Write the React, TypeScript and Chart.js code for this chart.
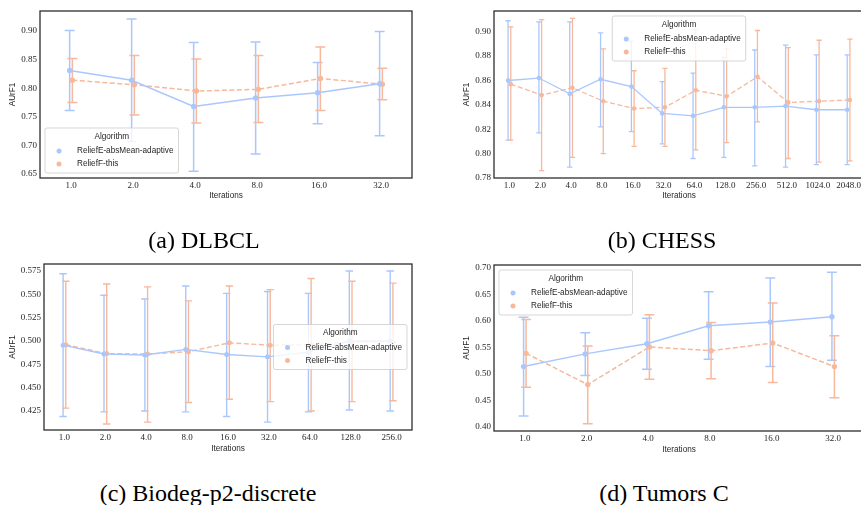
import React, { useEffect, useRef } from "react";
import { Chart, registerables } from "chart.js";

Chart.register(...registerables);

// ---------- shared labels ----------
const SERIES_NAMES = ["ReliefE-absMean-adaptive", "ReliefF-this"];
const SERIES_COLORS = ["rgb(170,199,253)", "rgb(247,184,156)"];
const LEGEND_TITLE = "Algorithm";
const X_TITLE = "Iterations";
const Y_TITLE = "AUrF1";

// ---------- (a) DLBCL ----------
const dlbclIterations = ["1.0", "2.0", "4.0", "8.0", "16.0", "32.0"];
const dlbclYTicks = [0.65, 0.7, 0.75, 0.8, 0.85, 0.9];
const dlbclAdaptiveMean = [0.831, 0.814, 0.768, 0.783, 0.792, 0.808];
const dlbclAdaptiveLow = [0.761, 0.707, 0.655, 0.685, 0.738, 0.717];
const dlbclAdaptiveHigh = [0.901, 0.921, 0.88, 0.881, 0.845, 0.899];
const dlbclThisMean = [0.814, 0.806, 0.795, 0.798, 0.817, 0.807];
const dlbclThisLow = [0.775, 0.753, 0.739, 0.74, 0.761, 0.78];
const dlbclThisHigh = [0.852, 0.857, 0.851, 0.857, 0.872, 0.835];

// ---------- (b) CHESS ----------
const chessIterations = ["1.0", "2.0", "4.0", "8.0", "16.0", "32.0", "64.0", "128.0", "256.0", "512.0", "1024.0", "2048.0"];
const chessYTicks = [0.78, 0.8, 0.82, 0.84, 0.86, 0.88, 0.9];
const chessAdaptiveMean = [0.86, 0.862, 0.849, 0.861, 0.855, 0.833, 0.831, 0.838, 0.838, 0.839, 0.836, 0.836];
const chessAdaptiveLow = [0.811, 0.817, 0.789, 0.822, 0.818, 0.808, 0.796, 0.797, 0.79, 0.789, 0.791, 0.791];
const chessAdaptiveHigh = [0.909, 0.908, 0.908, 0.899, 0.892, 0.859, 0.866, 0.879, 0.885, 0.889, 0.881, 0.881];
const chessThisMean = [0.857, 0.848, 0.854, 0.843, 0.837, 0.838, 0.852, 0.847, 0.863, 0.842, 0.843, 0.844];
const chessThisLow = [0.811, 0.786, 0.797, 0.8, 0.806, 0.806, 0.803, 0.809, 0.826, 0.796, 0.793, 0.794];
const chessThisHigh = [0.904, 0.91, 0.911, 0.886, 0.868, 0.87, 0.902, 0.886, 0.901, 0.887, 0.893, 0.894];

// ---------- (c) Biodeg-p2-discrete ----------
const biodegIterations = ["1.0", "2.0", "4.0", "8.0", "16.0", "32.0", "64.0", "128.0", "256.0"];
const biodegYTicks = [0.425, 0.45, 0.475, 0.5, 0.525, 0.55, 0.575];
const biodegAdaptiveMean = [0.4955, 0.486, 0.485, 0.491, 0.4855, 0.483, 0.488, 0.5, 0.5];
const biodegAdaptiveLow = [0.419, 0.424, 0.425, 0.424, 0.419, 0.413, 0.424, 0.426, 0.425];
const biodegAdaptiveHigh = [0.572, 0.549, 0.545, 0.559, 0.551, 0.553, 0.551, 0.575, 0.575];
const biodegThisMean = [0.496, 0.4865, 0.486, 0.4885, 0.498, 0.4955, 0.496, 0.499, 0.499];
const biodegThisLow = [0.428, 0.411, 0.413, 0.434, 0.4375, 0.435, 0.425, 0.435, 0.436];
const biodegThisHigh = [0.564, 0.561, 0.558, 0.543, 0.559, 0.555, 0.567, 0.564, 0.562];

// ---------- (d) Tumors C ----------
const tumorsIterations = ["1.0", "2.0", "4.0", "8.0", "16.0", "32.0"];
const tumorsYTicks = [0.4, 0.45, 0.5, 0.55, 0.6, 0.65, 0.7];
const tumorsAdaptiveMean = [0.514, 0.538, 0.557, 0.591, 0.598, 0.608];
const tumorsAdaptiveLow = [0.421, 0.497, 0.509, 0.528, 0.514, 0.526];
const tumorsAdaptiveHigh = [0.607, 0.578, 0.605, 0.655, 0.681, 0.692];
const tumorsThisMean = [0.539, 0.48, 0.551, 0.544, 0.5585, 0.514];
const tumorsThisLow = [0.475, 0.406, 0.49, 0.491, 0.484, 0.455];
const tumorsThisHigh = [0.603, 0.553, 0.612, 0.597, 0.634, 0.572];

// ---------- styles ----------
const TEXT_COLOR = "#262626";
const SERIF = "'Liberation Serif', 'Times New Roman', serif";
const SANS = "'Liberation Sans', Arial, sans-serif";
const LABEL_SIZE = 8.2;

const errorBarPlugin = {
  id: "errorBars",
  beforeDatasetsDraw(chart: any) {
    const o = chart.options.plugins.errorBars || {};
    const ctx = chart.ctx;
    const ca = chart.chartArea;
    const xs = chart.scales.x;
    const ys = chart.scales.y;
    const capHalf = Math.abs(xs.getPixelForValue(o.capFrac / 2) - xs.getPixelForValue(0));
    ctx.save();
    ctx.beginPath();
    ctx.rect(ca.left, ca.top, ca.right - ca.left, ca.bottom - ca.top);
    ctx.clip();
    chart.data.datasets.forEach((ds: any, di: number) => {
      const meta = chart.getDatasetMeta(di);
      ctx.strokeStyle = ds.borderColor;
      ctx.lineWidth = o.lineWidth;
      ctx.setLineDash([]);
      meta.data.forEach((pt: any, i: number) => {
        const x = pt.x;
        const yl = ys.getPixelForValue(ds.errLow[i]);
        const yh = ys.getPixelForValue(ds.errHigh[i]);
        ctx.beginPath();
        ctx.moveTo(x, yl);
        ctx.lineTo(x, yh);
        ctx.moveTo(x - capHalf, yl);
        ctx.lineTo(x + capHalf, yl);
        ctx.moveTo(x - capHalf, yh);
        ctx.lineTo(x + capHalf, yh);
        ctx.stroke();
      });
    });
    ctx.restore();
  },
};

const framePlugin = {
  id: "frame",
  afterDatasetsDraw(chart: any) {
    const ctx = chart.ctx;
    const ca = chart.chartArea;
    ctx.save();
    ctx.strokeStyle = TEXT_COLOR;
    ctx.lineWidth = 1.25;
    ctx.strokeRect(ca.left, ca.top, ca.right - ca.left, ca.bottom - ca.top);
    ctx.restore();
  },
};

const boxLegendPlugin = {
  id: "boxLegend",
  afterDraw(chart: any) {
    const o = chart.options.plugins.boxLegend;
    if (!o) return;
    const ctx = chart.ctx;
    const ca = chart.chartArea;
    ctx.save();
    ctx.font = `${LABEL_SIZE}px ${SANS}`;
    const tw = Math.max(...SERIES_NAMES.map((n) => ctx.measureText(n).width));
    const w = 32 + tw + 5;
    const h = 45;
    const pad = 5;
    let x = ca.left + pad;
    let y = ca.top + pad;
    if (o.loc === "lower left") {
      x = ca.left + pad;
      y = ca.bottom - pad - h;
    } else if (o.loc === "upper center") {
      x = (ca.left + ca.right) / 2 - w / 2;
      y = ca.top + pad;
    } else if (o.loc === "center right") {
      x = ca.right - pad - w;
      y = (ca.top + ca.bottom) / 2 - h / 2;
    }
    ctx.beginPath();
    if ((ctx as any).roundRect) (ctx as any).roundRect(x, y, w, h, 2);
    else ctx.rect(x, y, w, h);
    ctx.fillStyle = "rgba(255,255,255,0.8)";
    ctx.fill();
    ctx.strokeStyle = "rgba(204,204,204,0.8)";
    ctx.lineWidth = 1;
    ctx.stroke();
    ctx.fillStyle = TEXT_COLOR;
    ctx.textBaseline = "middle";
    ctx.textAlign = "center";
    ctx.fillText(LEGEND_TITLE, x + w / 2, y + 8.5);
    ctx.textAlign = "left";
    SERIES_NAMES.forEach((n, i) => {
      const ry = y + 23 + i * 13;
      ctx.fillStyle = SERIES_COLORS[i];
      ctx.beginPath();
      ctx.arc(x + 14, ry, 2.5, 0, Math.PI * 2);
      ctx.fill();
      ctx.fillStyle = TEXT_COLOR;
      ctx.fillText(n, x + 32, ry);
    });
    ctx.restore();
  },
};

type PanelProps = {
  left: number;
  top: number;
  width: number;
  height: number;
  yAxisWidth: number;
  xAxisHeight: number;
  padTop: number;
  padRight: number;
  iterations: string[];
  yTicks: number[];
  yMin: number;
  yMax: number;
  decimals: number;
  means: number[][];
  lows: number[][];
  highs: number[][];
  dodge: number;
  capFrac: number;
  lineWidth: number;
  pointRadius: number;
  legendLoc: string;
};

function Panel(p: PanelProps) {
  const ref = useRef<HTMLCanvasElement | null>(null);
  useEffect(() => {
    if (!ref.current) return;
    const datasets = p.means.map((m, s) => ({
      label: SERIES_NAMES[s],
      data: m.map((v, i) => ({ x: i + (s === 0 ? -p.dodge : p.dodge), y: v })),
      errLow: p.lows[s],
      errHigh: p.highs[s],
      borderColor: SERIES_COLORS[s],
      backgroundColor: SERIES_COLORS[s],
      borderWidth: p.lineWidth,
      borderDash: s === 0 ? [] : [5, 2.5],
      pointRadius: p.pointRadius,
      pointBorderWidth: 0,
      pointHoverRadius: p.pointRadius,
      tension: 0,
      fill: false,
    }));
    const chart = new Chart(ref.current, {
      type: "line",
      data: { datasets } as any,
      plugins: [errorBarPlugin, framePlugin, boxLegendPlugin],
      options: {
        responsive: false,
        animation: false,
        events: [],
        layout: { padding: { top: p.padTop, right: p.padRight, left: 0, bottom: 0 } },
        plugins: {
          legend: { display: false },
          tooltip: { enabled: false },
          errorBars: { capFrac: p.capFrac, lineWidth: p.lineWidth },
          boxLegend: { loc: p.legendLoc },
        } as any,
        scales: {
          x: {
            type: "linear",
            min: -0.5,
            max: p.iterations.length - 0.5,
            grid: { display: false, drawTicks: false },
            border: { display: false },
            afterBuildTicks: (s: any) => {
              s.ticks = p.iterations.map((_, i) => ({ value: i }));
            },
            afterFit: (s: any) => {
              s.height = p.xAxisHeight;
            },
            ticks: {
              autoSkip: false,
              maxRotation: 0,
              padding: 2,
              color: TEXT_COLOR,
              font: { family: SERIF, size: 9 },
              callback: (v: any) => p.iterations[Math.round(Number(v))],
            },
            title: {
              display: true,
              text: X_TITLE,
              color: TEXT_COLOR,
              font: { family: SANS, size: LABEL_SIZE },
              padding: { top: 0, bottom: 9 },
            },
          },
          y: {
            type: "linear",
            min: p.yMin,
            max: p.yMax,
            grid: { display: false, drawTicks: false },
            border: { display: false },
            afterBuildTicks: (s: any) => {
              s.ticks = p.yTicks.map((v) => ({ value: v }));
            },
            afterFit: (s: any) => {
              s.width = p.yAxisWidth;
            },
            ticks: {
              padding: 3,
              color: TEXT_COLOR,
              font: { family: SERIF, size: 9 },
              callback: (v: any) => Number(v).toFixed(p.decimals),
            },
            title: {
              display: true,
              text: Y_TITLE,
              color: TEXT_COLOR,
              font: { family: SANS, size: LABEL_SIZE },
              padding: { top: 8, bottom: 0 },
            },
          },
        },
      } as any,
    });
    return () => chart.destroy();
  }, []);
  return (
    <canvas
      ref={ref}
      width={p.width}
      height={p.height}
      style={{ position: "absolute", left: p.left, top: p.top, width: p.width, height: p.height }}
    />
  );
}

const captionStyle = (cx: number, cy: number): React.CSSProperties => ({
  position: "absolute",
  left: cx - 200,
  top: cy - 14,
  width: 400,
  height: 28,
  lineHeight: "28px",
  textAlign: "center",
  fontFamily: SERIF,
  fontSize: 24,
  color: "#000",
  whiteSpace: "nowrap",
});

export default function App() {
  return (
    <div
      style={{
        position: "absolute",
        left: 0,
        top: 0,
        width: 861,
        height: 505,
        overflow: "hidden",
        background: "#fff",
      }}
    >
      <Panel
        left={0}
        top={0}
        width={430}
        height={210}
        yAxisWidth={40}
        xAxisHeight={32}
        padTop={11}
        padRight={18}
        iterations={dlbclIterations}
        yTicks={dlbclYTicks}
        yMin={0.643}
        yMax={0.935}
        decimals={2}
        means={[dlbclAdaptiveMean, dlbclThisMean]}
        lows={[dlbclAdaptiveLow, dlbclThisLow]}
        highs={[dlbclAdaptiveHigh, dlbclThisHigh]}
        dodge={0.022}
        capFrac={0.16}
        lineWidth={1.5}
        pointRadius={2.7}
        legendLoc="lower left"
      />
      <Panel
        left={454}
        top={0}
        width={428}
        height={210}
        yAxisWidth={40}
        xAxisHeight={32}
        padTop={11}
        padRight={18}
        iterations={chessIterations}
        yTicks={chessYTicks}
        yMin={0.78}
        yMax={0.917}
        decimals={2}
        means={[chessAdaptiveMean, chessThisMean]}
        lows={[chessAdaptiveLow, chessThisLow]}
        highs={[chessAdaptiveHigh, chessThisHigh]}
        dodge={0.044}
        capFrac={0.17}
        lineWidth={1.3}
        pointRadius={2.3}
        legendLoc="upper center"
      />
      <Panel
        left={0}
        top={253}
        width={430}
        height={210}
        yAxisWidth={44}
        xAxisHeight={33}
        padTop={11}
        padRight={18}
        iterations={biodegIterations}
        yTicks={biodegYTicks}
        yMin={0.4046}
        yMax={0.5825}
        decimals={3}
        means={[biodegAdaptiveMean, biodegThisMean]}
        lows={[biodegAdaptiveLow, biodegThisLow]}
        highs={[biodegAdaptiveHigh, biodegThisHigh]}
        dodge={0.033}
        capFrac={0.18}
        lineWidth={1.4}
        pointRadius={2.5}
        legendLoc="center right"
      />
      <Panel
        left={454}
        top={254}
        width={428}
        height={210}
        yAxisWidth={40}
        xAxisHeight={33}
        padTop={11}
        padRight={18}
        iterations={tumorsIterations}
        yTicks={tumorsYTicks}
        yMin={0.3925}
        yMax={0.7057}
        decimals={2}
        means={[tumorsAdaptiveMean, tumorsThisMean]}
        lows={[tumorsAdaptiveLow, tumorsThisLow]}
        highs={[tumorsAdaptiveHigh, tumorsThisHigh]}
        dodge={0.02}
        capFrac={0.16}
        lineWidth={1.5}
        pointRadius={2.7}
        legendLoc="upper left"
      />
      <div style={captionStyle(204, 240)}>(a) DLBCL</div>
      <div style={captionStyle(662, 240)}>(b) CHESS</div>
      <div style={captionStyle(208, 493)}>(c) Biodeg-p2-discrete</div>
      <div style={captionStyle(664, 493)}>(d) Tumors C</div>
    </div>
  );
}
